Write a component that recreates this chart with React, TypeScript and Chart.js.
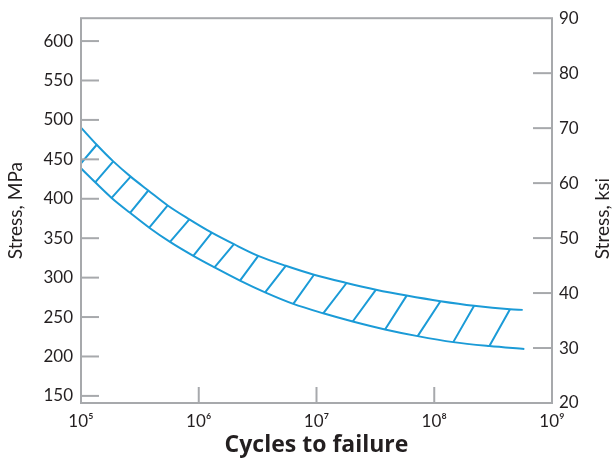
import React, { useEffect, useRef } from "react";
import { Chart, registerables } from "chart.js";

Chart.register(...registerables);

// Upper edge of the scatter band (cycles, MPa)
const upperCycles = [1.0e5, 1.36e5, 1.88e5, 2.64e5, 3.73e5, 5.45e5, 8.32e5, 1.29e6, 1.99e6, 3.2e6, 5.48e6, 9.52e6, 1.8e7, 3.2e7, 5.83e7, 1.13e8, 2.18e8, 4.4e8, 5.64e8];
const upperStress = [490.3, 468.5, 447.4, 428.1, 410.5, 391.5, 373.9, 357.0, 342.4, 327.6, 315.0, 303.7, 293.2, 284.7, 277.2, 270.0, 264.2, 259.9, 259.1];

// Lower edge of the scatter band (cycles, MPa)
const lowerCycles = [1.0e5, 1.32e5, 1.82e5, 2.61e5, 3.8e5, 5.7e5, 8.99e5, 1.36e6, 2.24e6, 3.66e6, 6.35e6, 1.14e7, 2.03e7, 3.82e7, 7.23e7, 1.45e8, 2.94e8, 5.82e8];
const lowerStress = [438.6, 420.9, 401.1, 382.2, 363.3, 345.3, 327.6, 313.0, 296.2, 281.3, 266.7, 254.8, 244.4, 234.3, 225.8, 218.2, 213.2, 209.5];

// Hatch segments: from (lowCycles, lowStress) to (highCycles, highStress)
const hatchLowCycles = [1.0e5, 1.32e5, 1.82e5, 2.61e5, 3.8e5, 5.7e5, 8.99e5, 1.36e6, 2.24e6, 3.66e6, 6.35e6, 1.14e7, 2.03e7, 3.82e7, 7.23e7, 1.45e8, 2.94e8];
const hatchLowStress = [445.0, 420.9, 401.1, 382.2, 363.3, 345.3, 327.6, 313.0, 296.2, 281.3, 266.7, 254.8, 244.4, 234.3, 225.8, 218.2, 213.2];
const hatchHighCycles = [1.36e5, 1.88e5, 2.64e5, 3.73e5, 5.45e5, 8.32e5, 1.29e6, 1.99e6, 3.2e6, 5.48e6, 9.52e6, 1.8e7, 3.2e7, 5.83e7, 1.13e8, 2.18e8, 4.4e8];
const hatchHighStress = [468.5, 447.4, 428.1, 410.5, 391.5, 373.9, 357.0, 342.4, 327.6, 315.0, 303.7, 293.2, 284.7, 277.2, 270.0, 264.2, 259.9];

// Axis ticks
const cycleTicks = [1e5, 1e6, 1e7, 1e8, 1e9];
const mpaTicks = [150, 200, 250, 300, 350, 400, 450, 500, 550, 600];
const ksiTicks = [20, 30, 40, 50, 60, 70, 80, 90];

const xTitle = "Cycles to failure";
const yLeftTitle = "Stress, MPa";
const yRightTitle = "Stress, ksi";

const BLUE = "#1b9bd7";
const GRAY = "#a7a9ac";
const TEXT = "#231f20";
const FONT = "Lato";

const SUP: Record<string, string> = { "0": "⁰", "1": "¹", "2": "²", "3": "³", "4": "⁴", "5": "⁵", "6": "⁶", "7": "⁷", "8": "⁸", "9": "⁹" };

const framePlugin = {
  id: "frameTicks",
  afterDraw(chart: any) {
    const { ctx, chartArea } = chart;
    const { left, right, top, bottom } = chartArea;
    ctx.save();
    ctx.strokeStyle = GRAY;
    ctx.lineWidth = 2;
    ctx.strokeRect(left, top, right - left, bottom - top);
    ctx.lineWidth = 2;
    const y = chart.scales.y;
    y.ticks.forEach((t: any) => {
      const p = y.getPixelForValue(t.value);
      if (p < top + 2 || p > bottom - 2) return;
      ctx.beginPath();
      ctx.moveTo(left, p);
      ctx.lineTo(left + 18, p);
      ctx.stroke();
    });
    const y2 = chart.scales.y2;
    y2.ticks.forEach((t: any) => {
      const p = y2.getPixelForValue(t.value);
      if (p < top + 3 || p > bottom - 3) return;
      ctx.beginPath();
      ctx.moveTo(right, p);
      ctx.lineTo(right - 19, p);
      ctx.stroke();
    });
    const x = chart.scales.x;
    x.ticks.forEach((t: any) => {
      const p = x.getPixelForValue(t.value);
      if (p < left + 3 || p > right - 3) return;
      ctx.beginPath();
      ctx.moveTo(p, bottom);
      ctx.lineTo(p, bottom - 16);
      ctx.stroke();
    });
    // right axis title, reading bottom-to-top
    ctx.fillStyle = TEXT;
    ctx.font = `19px ${FONT}`;
    ctx.textAlign = "center";
    ctx.textBaseline = "middle";
    ctx.translate(chart.width - 10, (top + bottom) / 2 + 8);
    ctx.rotate(-Math.PI / 2);
    ctx.fillText(yRightTitle, 0, 0);
    ctx.restore();
  },
};

export default function App() {
  const ref = useRef<HTMLCanvasElement | null>(null);

  useEffect(() => {
    if (!ref.current) return;
    const hatchData: any[] = [];
    hatchLowCycles.forEach((c, i) => {
      hatchData.push({ x: c, y: hatchLowStress[i] });
      hatchData.push({ x: hatchHighCycles[i], y: hatchHighStress[i] });
      hatchData.push({ x: hatchHighCycles[i], y: null });
    });
    const chart = new Chart(ref.current, {
      type: "line",
      data: {
        datasets: [
          {
            label: "upper",
            data: upperCycles.map((c, i) => ({ x: c, y: upperStress[i] })),
            borderColor: BLUE,
            borderWidth: 2,
            pointRadius: 0,
            cubicInterpolationMode: "monotone",
            fill: false,
          },
          {
            label: "lower",
            data: lowerCycles.map((c, i) => ({ x: c, y: lowerStress[i] })),
            borderColor: BLUE,
            borderWidth: 2,
            pointRadius: 0,
            cubicInterpolationMode: "monotone",
            fill: false,
          },
          {
            label: "hatch",
            data: hatchData,
            borderColor: BLUE,
            borderWidth: 2,
            pointRadius: 0,
            spanGaps: false,
            tension: 0,
            fill: false,
          },
        ],
      },
      options: {
        responsive: false,
        animation: false,
        events: [],
        layout: { padding: { top: 16, left: 0, right: 0, bottom: 0 } },
        plugins: { legend: { display: false }, tooltip: { enabled: false } },
        scales: {
          x: {
            type: "logarithmic",
            position: "bottom",
            min: 1e5,
            max: 1e9,
            afterBuildTicks: (s: any) => {
              s.ticks = cycleTicks.map((v) => ({ value: v }));
            },
            afterFit: (s: any) => {
              s.height = 55;
            },
            grid: { display: false, drawTicks: false },
            border: { display: false },
            ticks: {
              autoSkip: false,
              maxRotation: 0,
              padding: 8,
              color: TEXT,
              font: { family: FONT, size: 17 },
              callback: (v: any) => "10" + String(Math.round(Math.log10(Number(v)))).split("").map((d) => SUP[d]).join(""),
            },
            title: {
              display: true,
              text: xTitle,
              color: TEXT,
              font: { family: "Open Sans", size: 23, weight: "bold" },
              padding: { top: 0, bottom: -1 },
            },
          },
          y: {
            type: "linear",
            position: "left",
            min: 141,
            max: 629,
            afterBuildTicks: (s: any) => {
              s.ticks = mpaTicks.map((v) => ({ value: v }));
            },
            afterFit: (s: any) => {
              s.width = 81;
            },
            grid: { display: false, drawTicks: false },
            border: { display: false },
            ticks: {
              padding: 8,
              color: TEXT,
              font: { family: FONT, size: 17 },
            },
            title: {
              display: true,
              text: yLeftTitle,
              color: TEXT,
              font: { family: FONT, size: 19 },
              padding: { top: 4, bottom: 0 },
            },
          },
          y2: {
            type: "linear",
            position: "right",
            min: 20,
            max: 90,
            afterBuildTicks: (s: any) => {
              s.ticks = ksiTicks.map((v) => ({ value: v }));
            },
            afterFit: (s: any) => {
              s.width = 61;
            },
            grid: { display: false, drawTicks: false },
            border: { display: false },
            ticks: {
              padding: 7,
              color: TEXT,
              font: { family: FONT, size: 17 },
            },
          },
        },
      },
      plugins: [framePlugin],
    } as any);
    return () => chart.destroy();
  }, []);

  return (
    <div style={{ position: "fixed", left: 0, top: 0, width: 613, height: 458, background: "#fff" }}>
      <canvas ref={ref} width={613} height={458} style={{ display: "block" }} />
    </div>
  );
}
